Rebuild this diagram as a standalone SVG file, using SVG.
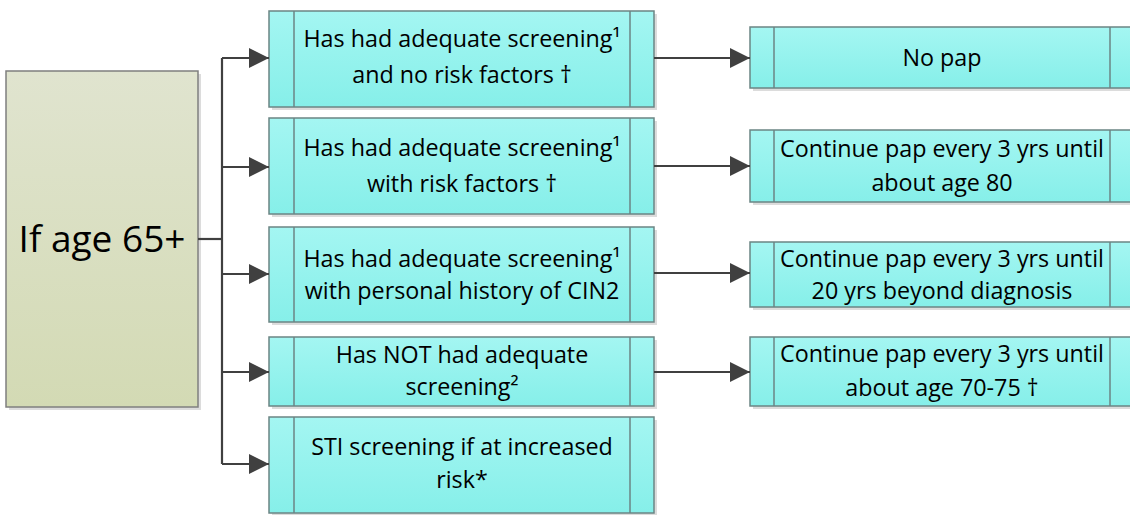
<svg xmlns="http://www.w3.org/2000/svg" width="1130" height="515" viewBox="0 0 1130 515">
<defs>
<linearGradient id="cy" x1="0" y1="0" x2="0" y2="1"><stop offset="0" stop-color="#a4f6f2"/><stop offset="1" stop-color="#86efe9"/></linearGradient>
<linearGradient id="ol" x1="0" y1="0" x2="0" y2="1"><stop offset="0" stop-color="#e0e4cf"/><stop offset="1" stop-color="#d3dab4"/></linearGradient>
<marker id="ah" markerUnits="userSpaceOnUse" markerWidth="20" markerHeight="20" viewBox="0 0 18 18" refX="18" refY="9" orient="auto"><path d="M0,0 L18,9 L0,18 Z" fill="#404040"/></marker>
<style>
.box{fill:url(#cy);stroke:#6b8584;stroke-width:1.5}
.shd{fill:#dcdcdc}
.in{stroke:#6b8584;stroke-width:1.5}
.t{font-family:"Open Sans","Liberation Sans",sans-serif;font-size:23.3px;fill:#000;text-anchor:middle}
.c{fill:none;stroke:#404040;stroke-width:2.2}
</style>
</defs>

<g id="start">
<rect x="9" y="74" width="192" height="336" class="shd"/>
<rect x="6" y="71" width="192" height="336" fill="url(#ol)" stroke="#7f7f7f" stroke-width="1.5"/>
<text x="102" y="252" font-family="'Open Sans','Liberation Sans',sans-serif" font-size="37" fill="#000" text-anchor="middle">If age 65+</text>
</g>

<g id="m1">
<rect x="272" y="14" width="385" height="96" class="shd"/>
<rect x="269" y="11" width="385" height="96" class="box"/>
<line x1="294" y1="11" x2="294" y2="107" class="in"/><line x1="630" y1="11" x2="630" y2="107" class="in"/>
<text class="t" x="462" y="47">Has had adequate screening¹</text>
<text class="t" x="462" y="83">and no risk factors †</text>
</g>
<g id="m2">
<rect x="272" y="121" width="385" height="96" class="shd"/>
<rect x="269" y="118" width="385" height="96" class="box"/>
<line x1="294" y1="118" x2="294" y2="214" class="in"/><line x1="630" y1="118" x2="630" y2="214" class="in"/>
<text class="t" x="462" y="156">Has had adequate screening¹</text>
<text class="t" x="462" y="192">with risk factors †</text>
</g>
<g id="m3">
<rect x="272" y="230" width="385" height="95" class="shd"/>
<rect x="269" y="227" width="385" height="95" class="box"/>
<line x1="294" y1="227" x2="294" y2="322" class="in"/><line x1="630" y1="227" x2="630" y2="322" class="in"/>
<text class="t" x="462" y="267">Has had adequate screening¹</text>
<text class="t" x="462" y="299">with personal history of CIN2</text>
</g>
<g id="m4">
<rect x="272" y="340" width="385" height="69" class="shd"/>
<rect x="269" y="337" width="385" height="69" class="box"/>
<line x1="294" y1="337" x2="294" y2="406" class="in"/><line x1="630" y1="337" x2="630" y2="406" class="in"/>
<text class="t" x="462" y="363">Has NOT had adequate</text>
<text class="t" x="462" y="395">screening²</text>
</g>
<g id="m5">
<rect x="272" y="420" width="385" height="96" class="shd"/>
<rect x="269" y="417" width="385" height="96" class="box"/>
<line x1="294" y1="417" x2="294" y2="513" class="in"/><line x1="630" y1="417" x2="630" y2="513" class="in"/>
<text class="t" x="462" y="455">STI screening if at increased</text>
<text class="t" x="462" y="488">risk*</text>
</g>

<g id="r1">
<rect x="753" y="30" width="385" height="61" class="shd"/>
<rect x="750" y="27" width="385" height="61" class="box"/>
<line x1="774" y1="27" x2="774" y2="88" class="in"/><line x1="1110" y1="27" x2="1110" y2="88" class="in"/>
<text class="t" x="942" y="66">No pap</text>
</g>
<g id="r2">
<rect x="753" y="133" width="385" height="72" class="shd"/>
<rect x="750" y="130" width="385" height="72" class="box"/>
<line x1="774" y1="130" x2="774" y2="202" class="in"/><line x1="1110" y1="130" x2="1110" y2="202" class="in"/>
<text class="t" x="942" y="157">Continue pap every 3 yrs until</text>
<text class="t" x="942" y="191">about age 80</text>
</g>
<g id="r3">
<rect x="753" y="245" width="385" height="65" class="shd"/>
<rect x="750" y="242" width="385" height="65" class="box"/>
<line x1="774" y1="242" x2="774" y2="307" class="in"/><line x1="1110" y1="242" x2="1110" y2="307" class="in"/>
<text class="t" x="942" y="267">Continue pap every 3 yrs until</text>
<text class="t" x="942" y="299">20 yrs beyond diagnosis</text>
</g>
<g id="r4">
<rect x="753" y="340" width="385" height="69" class="shd"/>
<rect x="750" y="337" width="385" height="69" class="box"/>
<line x1="774" y1="337" x2="774" y2="406" class="in"/><line x1="1110" y1="337" x2="1110" y2="406" class="in"/>
<text class="t" x="942" y="362">Continue pap every 3 yrs until</text>
<text class="t" x="942" y="396">about age 70-75 †</text>
</g>

<g id="connectors">
<path class="c" d="M198,239 H222"/>
<path class="c" d="M222,58 V464"/>
<path class="c" d="M222,58 H269" marker-end="url(#ah)"/>
<path class="c" d="M222,167 H269" marker-end="url(#ah)"/>
<path class="c" d="M222,274 H269" marker-end="url(#ah)"/>
<path class="c" d="M222,372 H269" marker-end="url(#ah)"/>
<path class="c" d="M222,464 H269" marker-end="url(#ah)"/>
<path class="c" d="M654,58 H750" marker-end="url(#ah)"/>
<path class="c" d="M654,166 H750" marker-end="url(#ah)"/>
<path class="c" d="M654,273 H750" marker-end="url(#ah)"/>
<path class="c" d="M654,372 H750" marker-end="url(#ah)"/>
</g>
</svg>
